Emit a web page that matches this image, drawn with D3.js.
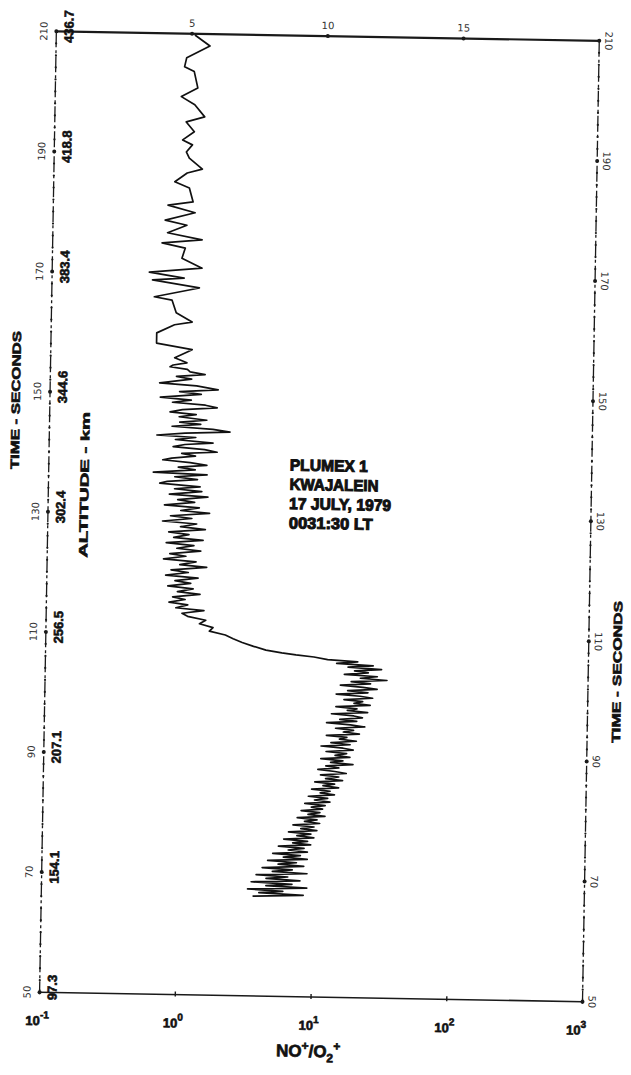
<!DOCTYPE html>
<html>
<head>
<meta charset="utf-8">
<script src="https://cdn.jsdelivr.net/npm/d3@7"></script>
<style>
    html, body { margin: 0; padding: 0; background: #fff; }
    svg { display: block; }
</style>
</head>
<body>
<svg id="chart" width="631" height="1075"></svg>
<script>
// NO+/O2+ ratio against flight time

const timeSec = [
    209.8, 208.0, 206.0, 204.5, 203.7, 201.0, 199.5, 198.2, 196.2, 195.3,
    193.7, 192.3, 191.5, 190.3, 189.3, 187.5, 186.8, 185.3, 184.3, 182.0,
    181.4, 180.2, 178.9, 178.1, 176.8, 175.7, 175.1, 174.3, 172.6, 171.0,
    170.2, 169.3, 168.9, 167.7, 166.1, 165.6, 163.5, 162.0, 161.5, 160.1,
    158.4, 157.4, 156.0,
    155.2, 154.8, 154.5, 154.1, 153.7, 153.3, 152.9, 152.5, 151.8, 151.4,
    150.8, 150.4, 150.0, 149.4, 149.0, 148.6, 148.2, 147.8, 147.4, 147.0,
    146.6, 146.2, 145.7, 145.3, 145.0, 144.6, 144.2, 143.8, 143.5, 143.1,
    142.8, 142.4, 141.9, 141.6, 141.2, 140.8, 140.4, 140.1, 139.7, 139.3,
    139.0, 138.6, 138.2, 137.8, 137.4, 136.9, 136.6, 136.2, 135.8, 135.4,
    135.1, 134.6,
    134.2, 133.8, 133.3, 132.9, 132.4, 132.0, 131.5, 131.1, 130.6, 130.2,
    129.7, 129.3, 128.8, 128.4, 127.9, 127.5, 127.0, 126.6, 126.1, 125.7,
    125.2, 124.8, 124.3, 123.9, 123.4, 123.0, 122.5, 122.1, 121.6, 121.2,
    120.7, 120.3, 119.8, 119.4, 118.9, 118.5, 118.0, 117.6, 117.1, 116.7,
    116.2, 115.8, 115.3, 114.9, 114.4, 114.0, 113.5,
    113.0, 112.4, 111.8, 111.2, 110.6, 110.0, 109.4, 108.8, 108.2, 107.6,
    107.2, 106.9, 106.6, 106.2,
    105.9, 105.6, 105.3, 105.0, 104.7, 104.4, 104.1, 103.8, 103.5, 103.2,
    102.9, 102.6, 102.3, 102.0, 101.7, 101.4, 101.1, 100.8, 100.5, 100.2,
    99.9, 99.6, 99.3, 99.0, 98.7, 98.4, 98.1, 97.8, 97.5, 97.2,
    96.9, 96.6, 96.3, 96.0, 95.7, 95.4, 95.1, 94.8, 94.5, 94.2,
    93.9, 93.6, 93.3, 93.0, 92.7, 92.4, 92.1, 91.8, 91.5, 91.2,
    90.9, 90.6, 90.3, 90.0, 89.7, 89.4, 89.1, 88.8, 88.5, 88.2,
    87.9, 87.6, 87.3, 87.0, 86.7, 86.4, 86.1, 85.8, 85.5, 85.2,
    84.9, 84.6, 84.3, 84.0, 83.7, 83.4, 83.1, 82.8, 82.5, 82.2,
    81.9, 81.6, 81.3, 81.0, 80.7, 80.4, 80.1, 79.8, 79.5, 79.2,
    78.9, 78.6, 78.3, 78.0, 77.7, 77.4, 77.1, 76.8, 76.5, 76.2,
    75.9, 75.6, 75.3, 75.0, 74.7, 74.4, 74.1, 73.8, 73.5, 73.2,
    72.9, 72.6, 72.3, 72.0, 71.7, 71.4, 71.1, 70.8, 70.5, 70.2,
    69.9, 69.6, 69.3, 69.0, 68.7, 68.4, 68.1, 67.8, 67.5, 67.2,
    66.9, 66.6
];

const ratio = [
    1.05, 1.36, 0.92, 0.89, 1.05, 1.12, 0.85, 1.07, 1.27, 0.93,
    1.07, 0.88, 1.04, 0.94, 0.99, 1.24, 0.96, 0.78, 1.00, 1.07,
    0.70, 1.11, 0.67, 0.97, 0.70, 1.26, 0.64, 0.95, 0.90, 1.27,
    0.52, 0.94, 0.55, 1.22, 0.57, 0.77, 0.83, 1.09, 0.81, 0.60,
    0.60, 1.10, 0.82,
    1.01, 0.80, 0.76, 1.02, 1.07, 1.38, 0.85, 1.10, 0.64, 1.20,
    1.73, 0.90, 1.30, 0.65, 1.10, 0.80, 1.40, 1.71, 0.95, 0.77,
    1.20, 0.90, 1.44, 0.91, 1.30, 0.80, 1.60, 2.14, 1.00, 0.62,
    1.20, 0.85, 1.61, 1.00, 0.82, 1.40, 1.73, 0.95, 1.20, 0.80,
    0.69, 1.10, 1.46, 0.90, 1.20, 0.59, 1.47, 0.85, 1.25, 0.75,
    0.66, 1.31,
    0.85, 1.35, 0.78, 1.50, 0.90, 1.20, 0.72, 1.30, 0.95, 1.55,
    0.80, 1.15, 0.70, 1.25, 0.95, 1.45, 0.78, 1.10, 0.85, 1.40,
    0.75, 1.20, 0.90, 1.35, 0.80, 1.05, 0.72, 1.25, 0.95, 1.50,
    0.82, 1.10, 0.75, 1.30, 0.88, 1.15, 0.78, 1.20, 0.92, 1.35,
    0.85, 1.05, 0.80, 1.10, 0.90, 1.45, 1.00,
    1.10, 1.50, 1.35, 1.70, 1.60, 2.10, 2.40, 2.80, 3.40, 4.20,
    5.50, 7.00, 9.50, 12.0,
    20, 14, 26, 17, 30, 19, 24, 16, 28, 21,
    33, 18, 25, 15, 22, 28, 17, 24, 14, 21,
    26, 16, 22, 19, 25, 14, 20, 17, 24, 13,
    19, 22, 15, 20, 12, 18, 23, 14, 19, 16,
    21, 12, 17, 15, 20, 13, 18, 11, 16, 19,
    12, 17, 14, 18, 11, 16, 13, 19, 12, 15,
    10.5, 14, 17, 11, 15, 12, 16, 10, 14, 11.5,
    15, 9.5, 13, 11, 14, 9, 12.5, 10, 13, 8.5,
    12, 9.5, 11.5, 8, 11, 9, 12, 7.5, 10.5, 8.5,
    11, 7, 10, 8, 10.5, 6.5, 9.5, 7.5, 10, 6,
    9, 7, 9.5, 5.5, 8.5, 6.5, 9, 5, 8, 6,
    9, 4.6, 7.5, 5.5, 8.5, 4.2, 7, 5, 9, 3.8,
    6.5, 4.5, 8, 3.5, 7, 4.5, 9, 3.3, 6, 4,
    8.5, 3.6
];

// axis ticks and labels
const timeTicks = [50, 70, 90, 110, 130, 150, 170, 190, 210];
const altitudeLabels = ["97.3", "154.1", "207.1", "256.5", "302.4", "344.6", "383.4", "418.8", "436.7"];
const decadeTicks = [0.1, 1, 10, 100, 1000];
const decadeExponents = ["-1", "0", "1", "2", "3"];
const topTicks = [1, 10, 100];
const topLabels = ["5", "10", "15"];
const noteLines = ["PLUMEX 1", "KWAJALEIN", "17 JULY, 1979", "0031:30 LT"];
const noteWidths = [78, 89, 102, 84];

const svg = d3.select("#chart");
const frame = { left: 48, right: 591, top: 36, bottom: 997 };

const x = d3.scaleLog().domain([0.1, 1000]).range([frame.left, frame.right]);
const y = d3.scaleLinear().domain([50, 210]).range([frame.bottom, frame.top]);

// the scan is turned about a degree, so the whole plot is too
const g = svg.append("g").attr("transform", "rotate(1, 318, 512)");

const ink = "#1a1a1a";

// frame: solid top and bottom, broken time axes on the sides
g.append("line")
    .attr("x1", frame.left).attr("x2", frame.right)
    .attr("y1", frame.top).attr("y2", frame.top)
    .attr("stroke", ink).attr("stroke-width", 2.2);

g.append("line")
    .attr("x1", frame.left).attr("x2", frame.right)
    .attr("y1", frame.bottom).attr("y2", frame.bottom)
    .attr("stroke", ink).attr("stroke-width", 1.6);

[frame.left, frame.right].forEach((ax) => {
    g.append("line")
        .attr("x1", ax).attr("x2", ax)
        .attr("y1", frame.top).attr("y2", frame.bottom)
        .attr("stroke", ink)
        .attr("stroke-width", 1.3)
        .attr("stroke-dasharray", "16,3,3,3");

    // small tick dots every 2 s, larger ones at labelled times
    d3.range(50, 211, 2).forEach((t) => {
        g.append("circle")
            .attr("cx", ax).attr("cy", y(t))
            .attr("r", timeTicks.includes(t) ? 2 : 1.1)
            .attr("fill", ink);
    });
});

// top axis ticks and labels
topTicks.forEach((v, i) => {
    g.append("circle")
        .attr("cx", x(v)).attr("cy", frame.top)
        .attr("r", 2).attr("fill", ink);
    g.append("text")
        .attr("x", x(v)).attr("y", frame.top - 7)
        .attr("text-anchor", "middle")
        .attr("font-family", "DejaVu Sans, sans-serif")
        .attr("font-size", 10)
        .attr("fill", "#333")
        .text(topLabels[i]);
});

// bottom decade labels 10^n
decadeTicks.forEach((v, i) => {
    g.append("line")
        .attr("x1", x(v)).attr("x2", x(v))
        .attr("y1", frame.bottom - 3).attr("y2", frame.bottom + 2)
        .attr("stroke", ink).attr("stroke-width", 1.4);

    const lab = g.append("text")
        .attr("x", x(v) - (i === 4 ? 6 : 2))
        .attr("y", frame.bottom + 33)
        .attr("text-anchor", "middle")
        .attr("font-family", "Liberation Sans, Arial, sans-serif")
        .attr("font-weight", "bold")
        .attr("font-size", 13)
        .attr("fill", "#111")
        .attr("stroke", "#111")
        .attr("stroke-width", 0.6);
    lab.append("tspan").text("10");
    lab.append("tspan")
        .attr("dy", -7)
        .attr("font-size", 10)
        .text(decadeExponents[i]);
});

// x axis title NO+/O2+
const xt = g.append("text")
    .attr("x", x(10) - 2)
    .attr("y", frame.bottom + 60)
    .attr("text-anchor", "middle")
    .attr("font-family", "Liberation Sans, Arial, sans-serif")
    .attr("font-weight", "bold")
    .attr("font-size", 17)
    .attr("fill", "#111")
    .attr("stroke", "#111")
    .attr("stroke-width", 0.7);
xt.append("tspan").text("NO");
xt.append("tspan").attr("dy", -7).attr("font-size", 12).text("+");
xt.append("tspan").attr("dy", 7).text("/O");
xt.append("tspan").attr("dy", 5).attr("font-size", 12).text("2");
xt.append("tspan").attr("dy", -12).attr("font-size", 12).text("+");

// left time labels, altitude labels, right time labels
timeTicks.forEach((t, i) => {
    const ty = y(t);

    g.append("text")
        .attr("transform", `translate(${frame.left - 9}, ${ty}) rotate(-90)`)
        .attr("text-anchor", "middle")
        .attr("font-family", "DejaVu Sans, sans-serif")
        .attr("font-size", 10)
        .attr("fill", "#333")
        .text(t);

    g.append("text")
        .attr("transform", `translate(${frame.left + 17}, ${ty - 5}) rotate(-90)`)
        .attr("text-anchor", "middle")
        .attr("font-family", "Liberation Sans, Arial, sans-serif")
        .attr("font-weight", "bold")
        .attr("font-size", 13)
        .attr("fill", "#111")
        .attr("stroke", "#111")
        .attr("stroke-width", 0.6)
        .text(altitudeLabels[i]);

    g.append("text")
        .attr("transform", `translate(${frame.right + 6}, ${ty}) rotate(90)`)
        .attr("text-anchor", "middle")
        .attr("font-family", "DejaVu Sans, sans-serif")
        .attr("font-size", 10)
        .attr("fill", "#333")
        .text(t);
});

// axis titles on the sides
function sideTitle(tx, ty, label, len) {
    g.append("text")
        .attr("transform", `translate(${tx}, ${ty}) rotate(-90)`)
        .attr("text-anchor", "middle")
        .attr("font-family", "Liberation Sans, Arial, sans-serif")
        .attr("font-weight", "bold")
        .attr("font-size", 12)
        .attr("textLength", len)
        .attr("lengthAdjust", "spacingAndGlyphs")
        .attr("fill", "#111")
        .attr("stroke", "#111")
        .attr("stroke-width", 0.6)
        .text(label);
}
sideTitle(frame.left - 30, y(148.5), "TIME - SECONDS", 138);
sideTitle(frame.left + 40, y(134.6), "ALTITUDE - km", 146);
sideTitle(frame.right + 33, y(105), "TIME - SECONDS", 142);

// flight annotation
noteLines.forEach((line, i) => {
    g.append("text")
        .attr("x", 289)
        .attr("y", 471 + i * 19.3)
        .attr("font-family", "Liberation Sans, Arial, sans-serif")
        .attr("font-weight", "bold")
        .attr("font-size", 16)
        .attr("textLength", noteWidths[i])
        .attr("lengthAdjust", "spacingAndGlyphs")
        .attr("fill", "#111")
        .attr("stroke", "#111")
        .attr("stroke-width", 1)
        .text(line);
});

// the ratio trace
const points = timeSec.map((t, i) => ({ t: t, v: ratio[i] }));

const line = d3.line()
    .x((d) => x(d.v))
    .y((d) => y(d.t));

g.append("path")
    .datum(points)
    .attr("d", line)
    .attr("fill", "none")
    .attr("stroke", "#111")
    .attr("stroke-width", 1.7)
    .attr("stroke-linejoin", "round");
</script>
</body>
</html>
